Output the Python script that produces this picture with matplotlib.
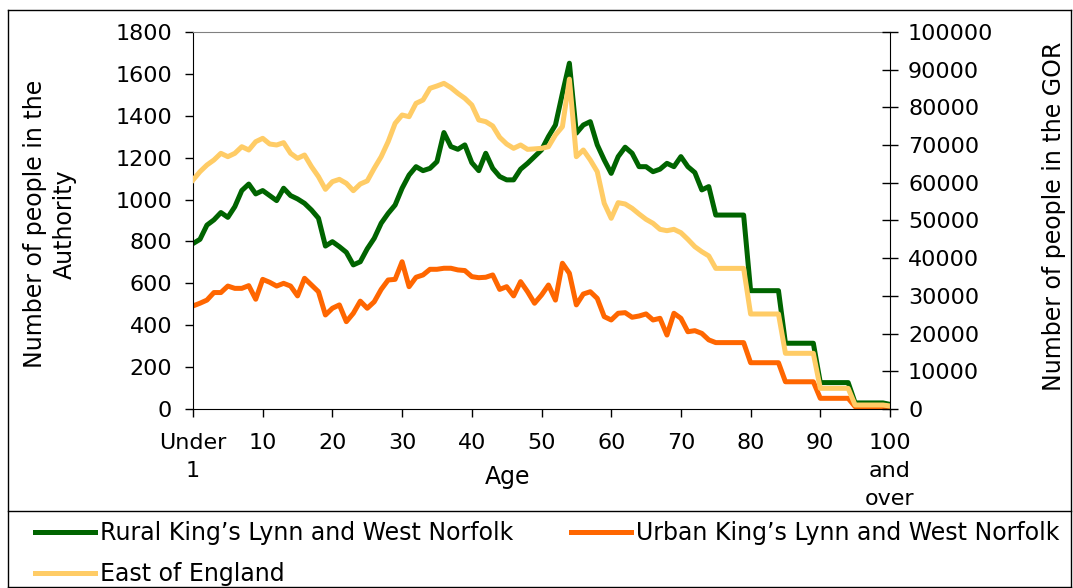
import matplotlib
matplotlib.use("Agg")
import matplotlib.pyplot as plt
from matplotlib.lines import Line2D

plt.rcParams['font.family'] = ['DejaVu Sans']

ages = list(range(0, 101))

# five-year bands from 75 upward hold one value per band
rural = [790, 810, 878, 903, 938, 915, 966, 1043, 1074, 1027,
         1043, 1019, 995, 1054, 1019, 1003, 982, 950, 911, 778,
         799, 775, 748, 688, 703, 765, 815, 887, 934, 974,
         1054, 1117, 1157, 1138, 1149, 1181, 1320, 1253, 1240, 1261,
         1176, 1138, 1221, 1149, 1110, 1094, 1094, 1145, 1173, 1205,
         1237, 1301, 1356, 1507, 1651, 1317, 1356, 1372, 1261, 1189,
         1125, 1205, 1250, 1221, 1157, 1157, 1133, 1145, 1173, 1157,
         1205, 1157, 1129, 1046, 1062, 926, 926, 926, 926, 926,
         565, 565, 565, 565, 565, 314, 314, 314, 314, 314,
         126, 126, 126, 126, 126, 29, 29, 29, 29, 29, 22]

urban = [492, 505, 520, 556, 556, 587, 576, 576, 589, 524,
         619, 605, 587, 600, 587, 540, 624, 592, 560, 449,
         481, 497, 417, 457, 515, 481, 512, 571, 616, 619,
         703, 584, 629, 640, 667, 667, 672, 672, 664, 661,
         632, 627, 629, 640, 571, 584, 540, 608, 560, 505,
         544, 592, 520, 696, 648, 497, 549, 560, 528, 441,
         425, 457, 460, 438, 444, 454, 425, 433, 353, 457,
         433, 369, 374, 361, 330, 317, 317, 317, 317, 317,
         221, 221, 221, 221, 221, 130, 130, 130, 130, 130,
         51, 51, 51, 51, 51, 11, 11, 11, 11, 11, 8]

east = [60740, 62950, 64720, 66050, 67820, 66930, 67820, 69580, 68700, 70910,
        71800, 70290, 70030, 70650, 67820, 66490, 67370, 64280, 61630, 58270,
        60300, 60920, 59860, 57910, 59680, 60500, 63840, 66930, 70910, 75770,
        77980, 77540, 81080, 81960, 85060, 85680, 86380, 85240, 83730, 82410,
        80640, 76660, 76220, 75070, 72060, 70290, 69140, 70030, 68870, 69000,
        69140, 69580, 72680, 74890, 87500, 66930, 68700, 66050, 62950, 54550,
        50580, 54730, 54380, 53230, 51720, 50310, 49250, 47660, 47300, 47660,
        46770, 45000, 43060, 41730, 40600, 37300, 37300, 37300, 37300, 37300,
        25200, 25200, 25200, 25200, 25200, 14770, 14770, 14770, 14770, 14770,
        5480, 5480, 5480, 5480, 5480, 1060, 1060, 1060, 1060, 1060, 800]

xticks = list(range(0, 101, 10))
xlabels = ['Under\n1', '10', '20', '30', '40', '50', '60', '70', '80', '90', '100\nand\nover']

W, H = 1073, 588
fig = plt.figure(figsize=(W / 100, H / 100), dpi=100)
ax = fig.add_axes([193 / W, 1 - 409 / H, 697 / W, 377 / H])
ax2 = ax.twinx()

l1, = ax.plot(ages, rural, color='#006400', lw=3.6, label="Rural King\u2019s Lynn and West Norfolk")
l2, = ax.plot(ages, urban, color='#FF6600', lw=3.6, label="Urban King\u2019s Lynn and West Norfolk")
l3, = ax2.plot(ages, east, color='#FFCC66', lw=3.6, label="East of England")

fs = 16
lfs = 17
ax.set_xlim(0, 100)
ax.set_ylim(0, 1800)
ax2.set_ylim(0, 100000)
ax.set_yticks(range(0, 1801, 200))
ax2.set_yticks(range(0, 100001, 10000))
ax.set_xticks(xticks)
ax.set_xticklabels(xlabels, linespacing=1.5)
ax.tick_params(axis='y', labelsize=fs, length=6, width=1, pad=9, direction='out')
ax.tick_params(axis='x', labelsize=fs, length=6, width=1, pad=11, direction='out')
ax2.tick_params(axis='y', labelsize=fs, length=12, width=1, pad=7, direction='inout')

for s in ['left', 'bottom']:
    ax.spines[s].set_color('black')
ax.spines['top'].set_color('#808080')
ax.spines['right'].set_visible(False)
ax2.spines['top'].set_visible(False)
ax2.spines['left'].set_visible(False)
ax2.spines['bottom'].set_visible(False)
ax2.spines['right'].set_color('black')

ax.set_ylabel('Number of people in the\nAuthority', fontsize=lfs, linespacing=1.3)
ax.yaxis.set_label_coords(-0.167, 0.49)
ax2.set_ylabel('Number of people in the GOR', fontsize=lfs)
ax2.yaxis.set_label_coords(1.218, 0.512)
ax.set_xlabel('Age', fontsize=lfs)
ax.xaxis.set_label_coords(0.452, -0.149)

# chart frame and legend frame
def fig_line(x0, y0, x1, y1):
    fig.add_artist(Line2D([x0 / W, x1 / W], [1 - y0 / H, 1 - y1 / H], color='black', lw=1))

fig_line(8, 10, 1071, 10)
fig_line(8, 10, 8, 587)
fig_line(1071, 10, 1071, 587)
fig_line(8, 511, 1071, 511)
fig_line(8, 587, 1071, 587)

fig.legend(handles=[l1, l3, l2], ncol=2, loc='upper left',
           bbox_to_anchor=(35 / W, 1 - 521 / H), frameon=False, fontsize=lfs,
           handlelength=2.55, handletextpad=0.2, columnspacing=2.45,
           labelspacing=0.72, borderpad=0, borderaxespad=0)

fig.savefig('out.png', dpi=100)
